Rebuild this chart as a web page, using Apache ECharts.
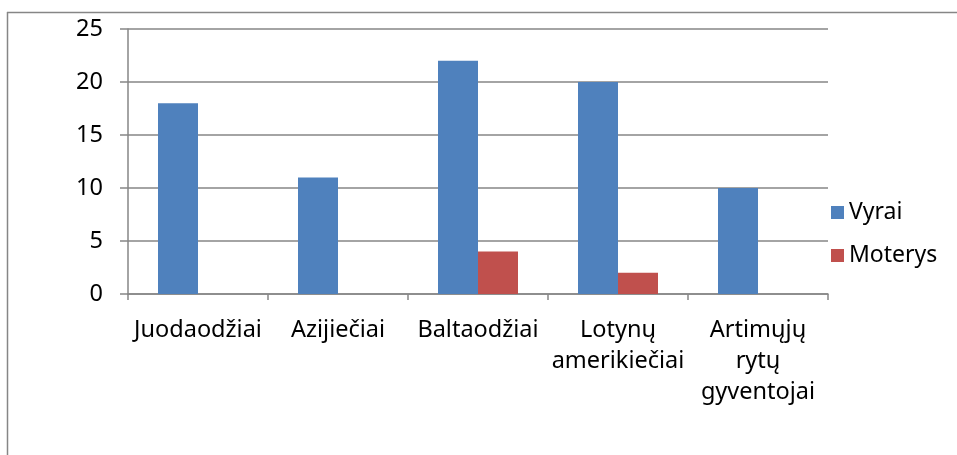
<!DOCTYPE html>
<html>
<head>
<meta charset="utf-8">
<script src="https://cdn.jsdelivr.net/npm/echarts@6/dist/echarts.min.js"></script>
<style>
  html, body { margin: 0; padding: 0; background: #fff; }
  #chart { width: 957px; height: 455px; }
</style>
</head>
<body>
<div id="chart"></div>
<script>
  // kategorijos ir reikšmės
  var categories = ['Juodaodžiai', 'Azijiečiai', 'Baltaodžiai', 'Lotynų\namerikiečiai', 'Artimųjų\nrytų\ngyventojai'];
  var vyrai = [18, 11, 22, 20, 10];
  var moterys = [0, 0, 4, 2, 0];
  var yTicks = [0, 5, 10, 15, 20, 25];

  var font = 'Noto Sans';
  var chart = echarts.init(document.getElementById('chart'));
  chart.setOption({
    animation: false,
    textStyle: { fontFamily: font },
    grid: { left: 128, right: 129, top: 29, bottom: 161 },
    legend: {
      orient: 'vertical',
      left: 826,
      top: 196,
      itemWidth: 13,
      itemHeight: 13,
      itemGap: 20,
      icon: 'rect',
      textStyle: { fontSize: 23, color: '#000', fontFamily: font },
      data: ['Vyrai', 'Moterys']
    },
    xAxis: {
      type: 'category',
      data: categories,
      axisLine: { lineStyle: { color: '#868686', width: 1.5 } },
      axisTick: { show: true, length: 6, lineStyle: { color: '#868686', width: 1.5 } },
      axisLabel: { color: '#000', fontSize: 23.5, margin: 21, lineHeight: 31, interval: 0 },
      splitLine: { show: false }
    },
    yAxis: {
      type: 'value',
      min: yTicks[0],
      max: yTicks[yTicks.length - 1],
      interval: 5,
      axisLine: { show: true, lineStyle: { color: '#868686', width: 1.5 } },
      axisTick: { show: true, length: 8, lineStyle: { color: '#868686', width: 1.5 } },
      axisLabel: { color: '#000', fontSize: 23.5, margin: 25 },
      splitLine: { lineStyle: { color: '#868686', width: 1.5 } }
    },
    series: [
      {
        name: 'Vyrai',
        type: 'bar',
        data: vyrai,
        barGap: 0,
        barCategoryGap: '42.86%',
        itemStyle: { color: '#4F81BD' }
      },
      {
        name: 'Moterys',
        type: 'bar',
        data: moterys,
        itemStyle: { color: '#C0504D' }
      }
    ],
    graphic: [
      { type: 'line', shape: { x1: 7, y1: 12.5, x2: 957, y2: 12.5 }, style: { stroke: '#868686', lineWidth: 1.5 } },
      { type: 'line', shape: { x1: 7.5, y1: 12, x2: 7.5, y2: 455 }, style: { stroke: '#868686', lineWidth: 1.5 } }
    ]
  });
</script>
</body>
</html>
